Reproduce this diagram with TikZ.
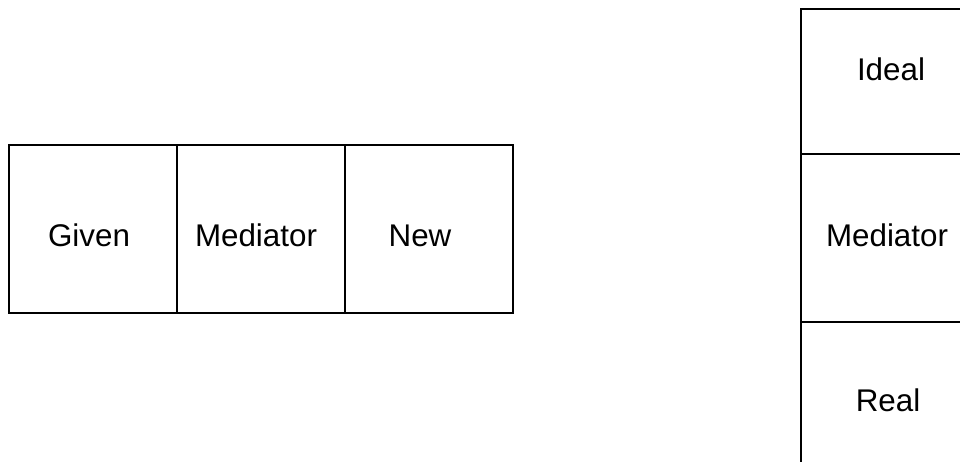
\documentclass[tikz,border=0pt]{standalone}
\usepackage{fontspec}
\setmainfont{Liberation Sans}
\begin{document}
\begin{tikzpicture}[x=0.025cm,y=-0.025cm,
  cell/.style={draw,line width=0.85pt,minimum width=168*0.025cm,minimum height=168*0.025cm,inner sep=0pt},
  word/.style={anchor=base,inner sep=0pt,font=\fontsize{22.3}{26}\selectfont}]
\useasboundingbox (0,0) rectangle (960,461);
\clip (0,0) rectangle (960,461);
% left row
\node[cell] (given) at (93,229) {};
\node[cell] (medl) at (261,229) {};
\node[cell] (new) at (429,229) {};
\node[word] (tgiven) at (89,246.7) {Given};
\node[word] (tmedl) at (256,246.7) {Mediator};
\node[word] (tnew) at (420,246.7) {New};
% right column
\node[cell,minimum height=145*0.025cm] (ideal) at (885,81.5) {};
\node[cell] (medr) at (885,238) {};
\node[cell] (real) at (885,406) {};
\node[word] (tideal) at (891,80.2) {Ideal};
\node[word] (tmedr) at (887,246) {Mediator};
\node[word] (treal) at (888,411.7) {Real};
\end{tikzpicture}
\end{document}
